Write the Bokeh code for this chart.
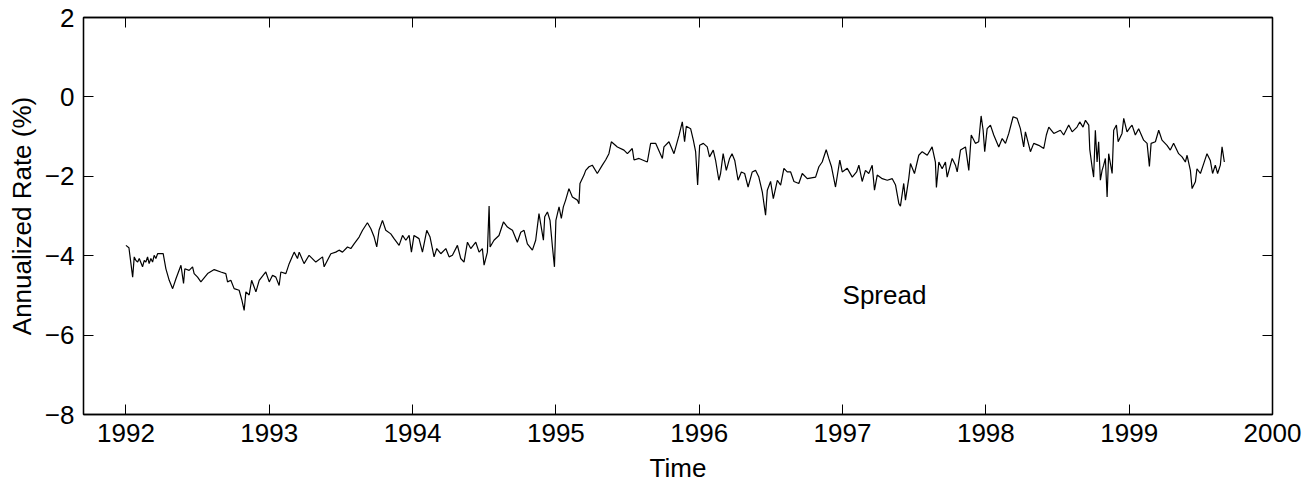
from bokeh.plotting import figure
from bokeh.models import Range1d, FixedTicker, LinearAxis, CustomLabelingPolicy
from bokeh.core.properties import value
from bokeh.embed import file_html
from bokeh.resources import INLINE

FONT = "Liberation Sans"

# Yield spread, annualized rate (%), sampled along the 1992-1999 record
years = [
    1992.000, 1992.021, 1992.047, 1992.058, 1992.070, 1992.082, 1992.093, 1992.116, 1992.128, 1992.139,
    1992.151, 1992.162, 1992.174, 1992.186, 1992.197, 1992.209, 1992.221, 1992.244, 1992.260, 1992.279,
    1992.302, 1992.326, 1992.349, 1992.384, 1992.402, 1992.411, 1992.441, 1992.465, 1992.476, 1992.500,
    1992.523, 1992.570, 1992.616, 1992.662, 1992.697, 1992.709, 1992.732, 1992.755, 1992.790, 1992.809,
    1992.825, 1992.837, 1992.860, 1992.877, 1992.907, 1992.930, 1992.976, 1993.000, 1993.023, 1993.046,
    1993.069, 1993.081, 1993.116, 1993.139, 1993.174, 1993.197, 1993.209, 1993.243, 1993.278, 1993.325,
    1993.372, 1993.383, 1993.430, 1993.464, 1993.487, 1993.511, 1993.546, 1993.569, 1993.592, 1993.627,
    1993.651, 1993.685, 1993.709, 1993.732, 1993.750, 1993.766, 1993.790, 1993.813, 1993.848, 1993.871,
    1993.906, 1993.930, 1993.953, 1993.976, 1993.992, 1994.010, 1994.045, 1994.069, 1994.099, 1994.122,
    1994.150, 1994.169, 1994.197, 1994.232, 1994.255, 1994.278, 1994.313, 1994.336, 1994.359, 1994.383,
    1994.406, 1994.441, 1994.464, 1994.487, 1994.499, 1994.522, 1994.534, 1994.541, 1994.568, 1994.603,
    1994.634, 1994.662, 1994.697, 1994.731, 1994.755, 1994.778, 1994.801, 1994.836, 1994.859, 1994.882,
    1994.913, 1994.922, 1994.941, 1994.959, 1994.976, 1994.990, 1995.000, 1995.022, 1995.038, 1995.052,
    1995.068, 1995.091, 1995.115, 1995.150, 1995.161, 1995.168, 1995.196, 1995.208, 1995.231, 1995.254,
    1995.289, 1995.324, 1995.347, 1995.370, 1995.387, 1995.429, 1995.475, 1995.499, 1995.533, 1995.545,
    1995.580, 1995.638, 1995.661, 1995.696, 1995.743, 1995.754, 1995.789, 1995.824, 1995.859, 1995.882,
    1995.898, 1995.910, 1995.940, 1995.959, 1995.975, 1995.989, 1996.003, 1996.029, 1996.056, 1996.072,
    1996.098, 1996.114, 1996.137, 1996.149, 1996.167, 1996.189, 1996.212, 1996.229, 1996.248, 1996.271,
    1996.294, 1996.317, 1996.341, 1996.370, 1996.393, 1996.416, 1996.440, 1996.463, 1996.475, 1996.498,
    1996.517, 1996.545, 1996.568, 1996.591, 1996.614, 1996.638, 1996.661, 1996.695, 1996.719, 1996.754,
    1996.812, 1996.835, 1996.858, 1996.886, 1996.904, 1996.923, 1996.951, 1996.981, 1996.998, 1997.033,
    1997.068, 1997.098, 1997.114, 1997.137, 1997.160, 1997.183, 1997.207, 1997.223, 1997.242, 1997.277,
    1997.312, 1997.347, 1997.370, 1997.393, 1997.404, 1997.427, 1997.439, 1997.462, 1997.474, 1997.502,
    1997.532, 1997.556, 1997.591, 1997.625, 1997.648, 1997.655, 1997.672, 1997.695, 1997.718, 1997.730,
    1997.765, 1997.788, 1997.800, 1997.823, 1997.858, 1997.881, 1997.898, 1997.927, 1997.950, 1997.967,
    1997.981, 1997.992, 1998.009, 1998.032, 1998.055, 1998.090, 1998.114, 1998.137, 1998.160, 1998.190,
    1998.218, 1998.241, 1998.264, 1998.276, 1998.311, 1998.334, 1998.369, 1998.404, 1998.422, 1998.439,
    1998.474, 1998.520, 1998.543, 1998.578, 1998.602, 1998.636, 1998.655, 1998.678, 1998.695, 1998.718,
    1998.725, 1998.741, 1998.752, 1998.764, 1998.776, 1998.787, 1998.799, 1998.811, 1998.822, 1998.834,
    1998.846, 1998.857, 1998.881, 1998.892, 1998.911, 1998.923, 1998.950, 1998.962, 1998.985, 1999.008,
    1999.020, 1999.043, 1999.066, 1999.101, 1999.125, 1999.141, 1999.153, 1999.183, 1999.206, 1999.229,
    1999.264, 1999.287, 1999.310, 1999.345, 1999.369, 1999.392, 1999.404, 1999.427, 1999.439, 1999.462,
    1999.473, 1999.497, 1999.520, 1999.543, 1999.566, 1999.582, 1999.601, 1999.617, 1999.636, 1999.648,
    1999.664,
]

spread = [
    -3.74, -3.80, -4.54, -4.03, -4.12, -4.16, -4.07, -4.28, -4.12, -4.16,
    -4.03, -4.20, -4.07, -4.16, -3.99, -4.07, -3.95, -3.95, -3.95, -4.33,
    -4.62, -4.83, -4.58, -4.24, -4.70, -4.33, -4.37, -4.28, -4.45, -4.54,
    -4.66, -4.45, -4.35, -4.41, -4.45, -4.66, -4.62, -4.83, -4.87, -5.12,
    -5.38, -4.91, -4.99, -4.62, -4.91, -4.62, -4.41, -4.66, -4.49, -4.54,
    -4.75, -4.41, -4.45, -4.20, -3.91, -4.07, -3.91, -4.20, -3.99, -4.16,
    -4.03, -4.28, -3.95, -3.91, -3.86, -3.91, -3.78, -3.82, -3.70, -3.53,
    -3.36, -3.17, -3.32, -3.53, -3.78, -3.36, -3.11, -3.36, -3.45, -3.57,
    -3.74, -3.49, -3.61, -3.49, -3.91, -3.49, -3.57, -3.91, -3.36, -3.53,
    -4.03, -3.82, -3.95, -3.82, -4.03, -3.99, -3.74, -4.07, -4.16, -3.66,
    -3.82, -3.66, -3.91, -3.82, -4.24, -3.91, -2.75, -3.78, -3.61, -3.49,
    -3.15, -3.28, -3.36, -3.66, -3.41, -3.36, -3.70, -3.86, -3.61, -2.94,
    -3.61, -3.02, -2.90, -3.11, -3.78, -4.28, -3.11, -2.77, -3.06, -2.77,
    -2.60, -2.31, -2.52, -2.60, -2.69, -2.18, -1.97, -1.85, -1.76, -1.72,
    -1.93, -1.72, -1.59, -1.43, -1.13, -1.26, -1.34, -1.43, -1.30, -1.59,
    -1.55, -1.64, -1.17, -1.17, -1.55, -1.26, -1.13, -1.43, -0.97, -0.63,
    -1.13, -0.74, -0.80, -1.09, -1.38, -2.22, -1.22, -1.17, -1.26, -1.51,
    -1.34, -1.59, -2.10, -1.93, -1.43, -1.85, -1.55, -1.43, -1.60, -2.10,
    -1.89, -1.93, -2.27, -1.89, -1.85, -2.02, -2.39, -2.98, -2.35, -2.13,
    -2.56, -2.10, -2.22, -1.80, -1.89, -1.89, -2.13, -2.18, -1.93, -2.06,
    -2.02, -1.76, -1.64, -1.33, -1.55, -1.76, -2.27, -1.59, -1.89, -1.80,
    -2.02, -1.89, -1.72, -2.13, -1.85, -1.93, -1.72, -2.35, -1.97, -2.06,
    -2.10, -2.06, -2.22, -2.69, -2.75, -2.18, -2.60, -2.06, -1.68, -1.93,
    -1.47, -1.38, -1.47, -1.26, -1.64, -2.28, -1.64, -1.81, -1.64, -2.02,
    -1.55, -1.72, -1.89, -1.34, -1.26, -1.85, -0.96, -1.17, -1.13, -0.48,
    -0.84, -1.38, -0.80, -0.71, -0.96, -1.26, -1.05, -1.17, -0.92, -0.50,
    -0.54, -0.80, -1.26, -0.88, -1.38, -1.17, -1.22, -1.30, -0.96, -0.76,
    -0.92, -0.84, -0.96, -0.71, -0.88, -0.76, -0.63, -0.76, -0.59, -0.71,
    -1.32, -1.76, -2.02, -0.84, -1.64, -1.13, -2.10, -1.85, -1.72, -1.55,
    -2.52, -1.43, -1.93, -0.84, -0.71, -1.13, -0.92, -0.54, -0.88, -0.76,
    -0.71, -0.96, -0.80, -1.09, -1.17, -1.75, -1.17, -1.13, -0.84, -1.09,
    -1.22, -1.34, -1.17, -1.43, -1.51, -1.64, -1.47, -1.85, -2.31, -2.14,
    -1.81, -1.93, -1.68, -1.43, -1.60, -1.93, -1.72, -1.93, -1.72, -1.26,
    -1.64,
]

x_ticks = [1992, 1993, 1994, 1995, 1996, 1997, 1998, 1999, 2000]
x_tick_labels = [str(t) for t in x_ticks]
y_ticks = [-8, -6, -4, -2, 0, 2]
y_tick_labels = ["\u22128", "\u22126", "\u22124", "\u22122", "0", "2"]

label_text = "Spread"
label_x = 1997.0
label_y = -5.0

p = figure(
    width=1315, height=485,
    output_backend="svg", toolbar_location=None,
    x_range=Range1d(1991.704, 2000.0), y_range=Range1d(-8, 2),
    x_axis_type=None, y_axis_type=None,
    min_border_left=83, min_border_right=43,
    min_border_top=17, min_border_bottom=71,
    background_fill_color="white", border_fill_color="white",
)
p.grid.visible = False
p.outline_line_color = "black"
p.outline_line_width = 1.3


def style_axis(ax, ticks, labels, show_labels):
    ax.ticker = FixedTicker(ticks=ticks)
    ax.major_tick_in = 10
    ax.major_tick_out = 0
    ax.major_tick_line_color = "black"
    ax.major_tick_line_width = 1
    ax.minor_tick_line_color = None
    ax.axis_line_color = "black"
    ax.axis_line_width = 1.3
    ax.major_label_text_font = FONT
    ax.major_label_text_color = "black"
    if show_labels:
        ax.major_label_overrides = {t: l for t, l in zip(ticks, labels)}
        ax.major_label_text_font_size = "26px"
        ax.major_label_standoff = 9
    else:
        # box-side axes carry tick marks only
        ax.major_label_policy = CustomLabelingPolicy(code="return []")
        ax.major_label_text_font_size = "10px"
        ax.major_label_standoff = 0


xb = LinearAxis(axis_label="Time")
style_axis(xb, x_ticks, x_tick_labels, True)
yl = LinearAxis(axis_label="Annualized Rate (%)")
style_axis(yl, y_ticks, y_tick_labels, True)
xt = LinearAxis()
style_axis(xt, x_ticks, x_tick_labels, False)
yr = LinearAxis()
style_axis(yr, y_ticks, y_tick_labels, False)

for ax in (xb, yl):
    ax.axis_label_text_font = FONT
    ax.axis_label_text_font_size = "26px"
    ax.axis_label_text_font_style = "normal"
    ax.axis_label_text_color = "black"
xb.axis_label_standoff = 8
yl.axis_label_standoff = 5

p.add_layout(xb, "below")
p.add_layout(yl, "left")
p.add_layout(xt, "above")
p.add_layout(yr, "right")

p.line(years, spread, line_color="black", line_width=1.2)

p.text(x=[label_x], y=[label_y], text=[label_text],
       text_font=value(FONT), text_font_size="26px",
       text_align="left", text_baseline="middle", text_color="black")

open("out.html", "w").write(file_html(p, INLINE))
